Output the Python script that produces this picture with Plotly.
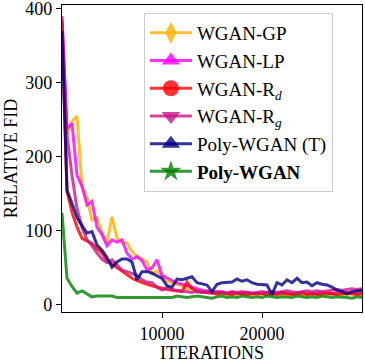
import plotly.graph_objects as go

iterations = [i * 500 for i in range(61)]

wgan_gp = [380, 230, 248, 255, 160, 145, 115, 118, 97, 84, 119, 90, 84, 84, 72, 66, 62, 58, 42, 46,
           40, 32, 30, 28, 26, 22, 22, 20, 18, 17, 16, 15, 16, 14, 15, 14, 16, 15, 14, 13,
           15, 14, 13, 15, 14, 13, 14, 15, 13, 14, 15, 14, 13, 14, 15, 14, 13, 14, 15, 14, 14]
wgan_lp = [385, 238, 245, 175, 160, 135, 140, 105, 95, 80, 88, 85, 88, 70, 62, 65, 60, 47, 50, 61,
           40, 36, 33, 30, 28, 26, 24, 22, 20, 19, 18, 17, 18, 16, 17, 16, 15, 17, 16, 15,
           16, 17, 15, 16, 17, 16, 15, 16, 17, 16, 15, 16, 17, 16, 15, 17, 18, 17, 16, 17, 17]
wgan_rd = [380, 153, 125, 105, 90, 86, 83, 76, 70, 60, 55, 50, 45, 40, 36, 33, 30, 28, 26, 24,
           23, 21, 20, 19, 18, 31, 22, 18, 17, 16, 16, 15, 16, 15, 14, 16, 15, 14, 15, 16,
           15, 14, 15, 14, 16, 15, 14, 15, 16, 14, 15, 14, 15, 16, 15, 14, 15, 16, 15, 14, 15]
wgan_rg = [390, 230, 175, 130, 105, 88, 80, 70, 62, 57, 61, 54, 47, 45, 43, 40, 34, 31, 30, 24,
           20, 23, 21, 20, 19, 18, 17, 18, 17, 18, 17, 18, 17, 16, 18, 17, 18, 17, 16, 17,
           18, 17, 18, 17, 18, 19, 18, 17, 18, 19, 18, 19, 18, 19, 20, 21, 20, 21, 22, 21, 22]
poly_t = [370, 155, 137, 118, 107, 97, 99, 81, 74, 64, 51, 58, 62, 62, 58, 34, 45, 45, 43, 39,
          36, 26, 24, 35, 34, 36, 38, 30, 28, 27, 18, 28, 30, 30, 31, 35, 32, 34, 30, 28,
          28, 27, 14, 30, 27, 34, 30, 36, 30, 31, 26, 30, 28, 27, 24, 20, 18, 15, 18, 19, 20]
poly = [124, 36, 25, 16, 19, 15, 11, 12, 12, 11, 12, 10, 10, 10, 10, 11, 10, 10, 11, 10,
        10, 11, 10, 12, 11, 10, 11, 12, 11, 10, 9, 11, 12, 10, 11, 10, 12, 11, 10, 11,
        10, 12, 11, 10, 11, 11, 10, 12, 11, 10, 11, 10, 12, 11, 10, 11, 11, 10, 9, 11, 10]

names = ["WGAN-GP", "WGAN-LP", "WGAN-R<sub><i>d</i></sub>", "WGAN-R<sub><i>g</i></sub>",
         "Poly-WGAN (T)", "<b>Poly-WGAN</b>"]
series = [wgan_gp, wgan_lp, wgan_rd, wgan_rg, poly_t, poly]
colors = ["rgba(255,176,0,0.8)", "rgba(255,0,255,0.8)", "rgba(255,0,0,0.8)",
          "rgba(199,21,133,0.8)", "rgba(0,0,128,0.8)", "rgba(0,128,0,0.8)"]
symbols = ["diamond-tall", "triangle-up", "circle", "triangle-down", "triangle-up", "star"]
x_ticks = [10000, 20000]
y_ticks = [0, 100, 200, 300, 400]

fig = go.Figure()
for name, ys, c in zip(names, series, colors):
    fig.add_trace(go.Scatter(x=iterations, y=ys, mode="lines", line=dict(color=c, width=3),
                             showlegend=False, hoverinfo="skip"))
for i, (name, c, s) in enumerate(zip(names, colors, symbols)):
    fig.add_trace(go.Scatter(x=[None], y=[None], mode="lines+markers", name=name,
                             legendgroup=str(i),
                             line=dict(color=c, width=3),
                             marker=dict(symbol=s, size=16, color=c)))

axis_common = dict(showline=True, linecolor="black", linewidth=1.2, mirror=True,
                   ticks="outside", ticklen=5, tickcolor="black", showgrid=False,
                   zeroline=False, tickfont=dict(size=18, color="black"),
                   automargin=False, ticklabeloverflow="allow")
fig.update_xaxes(range=[0, 30000], tickvals=x_ticks, ticktext=[str(v) for v in x_ticks],
                 title=dict(text="ITERATIONS", font=dict(size=18, color="black"), standoff=2),
                 **axis_common)
fig.update_yaxes(range=[-9.5, 405], tickvals=y_ticks, ticktext=[str(v) for v in y_ticks],
                 title=dict(text="RELATIVE FID", font=dict(size=18, color="black"), standoff=2),
                 **axis_common)
fig.update_layout(
    width=365, height=363,
    margin=dict(l=62, r=3, t=5, b=51),
    paper_bgcolor="white", plot_bgcolor="white",
    font=dict(family="Liberation Serif", size=18, color="black"),
    legend=dict(x=0.273, y=0.974, xanchor="left", yanchor="top",
                bgcolor="white", bordercolor="#cccccc", borderwidth=1,
                font=dict(size=19), tracegroupgap=0, itemwidth=42),
)
fig.write_html("out.html", post_script="document.body.style.margin='0px';",
               config={"displayModeBar": False})
